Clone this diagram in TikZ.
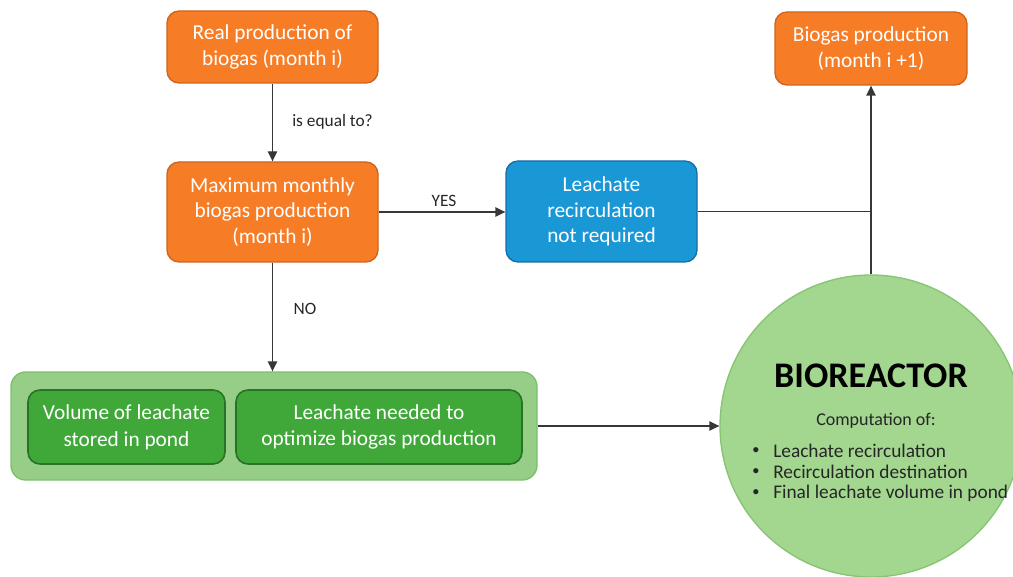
\documentclass[tikz,border=0pt]{standalone}
\usepackage{fontspec}
\setmainfont{Carlito}
\usetikzlibrary{arrows.meta}
\newdimen\pxu \pxu=0.75pt
\definecolor{orfill}{RGB}{246,125,38}
\definecolor{ordraw}{RGB}{205,100,30}
\definecolor{blfill}{RGB}{26,152,214}
\definecolor{bldraw}{RGB}{20,110,165}
\definecolor{contfill}{RGB}{150,206,136}
\definecolor{contdraw}{RGB}{125,190,110}
\definecolor{gnfill}{RGB}{64,168,56}
\definecolor{gndraw}{RGB}{40,115,38}
\definecolor{circfill}{RGB}{163,214,143}
\definecolor{circdraw}{RGB}{135,196,115}
\definecolor{linecol}{RGB}{55,55,55}
\tikzset{
  flowbox/.style={rectangle, rounded corners=9pt, line width=1pt, align=center,
    text=white, font=\fontsize{16}{19.3}\selectfont, inner sep=2pt},
  orbox/.style={flowbox, fill=orfill, draw=ordraw},
  bluebox/.style={flowbox, fill=blfill, draw=bldraw},
  greenbox/.style={flowbox, fill=gnfill, draw=gndraw, line width=1.2pt, font=\fontsize{16}{20}\selectfont},
  conn/.style={draw=linecol, line width=1pt},
  arr/.style={conn, -{Triangle[length=7.5pt,width=7pt]}},
  lbl/.style={font=\fontsize{13}{15}\selectfont, text=black!85, inner sep=0pt},
  bul/.style={font=\fontsize{14.5}{17}\selectfont, text=black!85, anchor=west, inner sep=0pt}
}
\begin{document}
\begin{tikzpicture}[x=0.75pt,y=-0.75pt]
\useasboundingbox (0,0) rectangle (1013,577);
% nodes
\node[orbox, minimum width=211\pxu, minimum height=72\pxu] (real) at (272.5,47) {Real production of\\biogas (month i)};
\node[orbox, minimum width=211\pxu, minimum height=100\pxu] (max) at (272.5,212) {Maximum monthly\\biogas production\\(month i)};
\node[bluebox, minimum width=191\pxu, minimum height=101\pxu] (notreq) at (601.5,211.5) {Leachate\\recirculation\\not required};
\node[orbox, minimum width=192\pxu, minimum height=73\pxu] (next) at (871,48.5) {Biogas production\\(month i +1)};
\node[rectangle, rounded corners=11pt, fill=contfill, draw=contdraw, line width=1pt,
      minimum width=526\pxu, minimum height=108\pxu] (cont) at (274,426) {};
\node[greenbox, minimum width=197\pxu, minimum height=74\pxu] (vol) at (126.5,427) {Volume of leachate\\stored in pond};
\node[greenbox, minimum width=286\pxu, minimum height=74\pxu] (need) at (379,427) {Leachate needed to\\optimize biogas production};
\node[circle, fill=circfill, draw=circdraw, line width=1pt, minimum size=302\pxu, inner sep=0pt] (bio) at (871,426) {};
\node[font=\bfseries\fontsize{27}{31}\selectfont, text=black, inner sep=0pt] (biot) at (871,376) {BIOREACTOR};
\node[font=\fontsize{13.5}{16}\selectfont, text=black!85, inner sep=0pt] (comp) at (876,421) {Computation of:};
\node[bul] (b1) at (773,451) {Leachate recirculation};
\node[bul] (b2) at (773,472) {Recirculation destination};
\node[bul] (b3) at (773,493) {Final leachate volume in pond};
\node[font=\fontsize{10}{10}\selectfont, text=black!85, inner sep=0pt] (d1) at (756,451) {$\bullet$};
\node[font=\fontsize{10}{10}\selectfont, text=black!85, inner sep=0pt] (d2) at (756,472) {$\bullet$};
\node[font=\fontsize{10}{10}\selectfont, text=black!85, inner sep=0pt] (d3) at (756,493) {$\bullet$};
% labels
\node[lbl, anchor=west] (eq) at (292,122) {is equal to?};
\node[lbl] (yes) at (444,201) {YES};
\node[lbl] (no) at (305,309) {NO};
% connectors
\coordinate (junc) at (871,211.5);
\draw[arr] (real.south) -- (max.north);
\draw[arr] (max.east) -- (max.east -| notreq.west);
\draw[arr] (max.south) -- (max.south |- cont.north);
\draw[arr] (cont.east) -- (bio.west);
\draw[conn] (notreq.east) -- (junc);
\draw[arr] (bio.north) -- (next.south);
\end{tikzpicture}
\end{document}
